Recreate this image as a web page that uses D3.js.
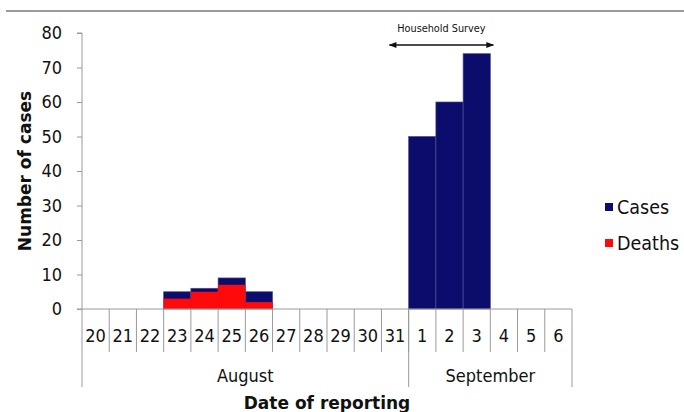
<!DOCTYPE html>
<html><head><meta charset="utf-8">
<script src="https://cdn.jsdelivr.net/npm/d3@7"></script>
<style>
html,body{margin:0;padding:0;background:#fff;}
svg{display:block;font-family:"DejaVu Sans",sans-serif;}
.cond{font-family:"DejaVu Sans Condensed","DejaVu Sans",sans-serif;font-stretch:condensed;}
</style></head>
<body>
<svg id="chart" width="684" height="412"></svg>
<script>
const days = ["20","21","22","23","24","25","26","27","28","29","30","31","1","2","3","4","5","6"];
const cases = [0,0,0,5,6,9,5,0,0,0,0,0,50,60,74,0,0,0];
const deaths = [0,0,0,3,5,7,2,0,0,0,0,0,0,0,0,0,0,0];
const months = ["August","September"];
const monthDays = [12,6];
const yTicks = [0,10,20,30,40,50,60,70,80];
const seriesNames = ["Cases","Deaths"];
const annotation = "Household Survey";
const surveyDays = ["31","3"];

(function(){
const colCases = "#0c0c6c", colDeaths = "#ff0a0a", axisCol = "#9a9a9a";
const svg = d3.select("#chart");
const pL = 82, pR = 572, pT = 33, pB = 309;

const x = d3.scaleBand().domain(days).range([pL, pR]).padding(0);
const y = d3.scaleLinear().domain([0, 80]).range([pB, pT]);

// top rule
svg.append("line").attr("x1",6).attr("x2",684).attr("y1",11).attr("y2",11)
  .attr("stroke","#7a7a7a").attr("stroke-width",1.5);

// bars
const idx = d3.range(days.length);
svg.append("g").selectAll("rect").data(idx.filter(i=>cases[i]>0)).join("rect")
  .attr("x", i=>x(days[i])).attr("width", x.bandwidth())
  .attr("y", i=>y(cases[i])).attr("height", i=>y(0)-y(cases[i]))
  .attr("fill", colCases).attr("stroke","#4c4c88").attr("stroke-width",0.7);
svg.append("g").selectAll("rect").data(idx.filter(i=>deaths[i]>0)).join("rect")
  .attr("x", i=>x(days[i])).attr("width", x.bandwidth())
  .attr("y", i=>y(deaths[i])).attr("height", i=>y(0)-y(deaths[i]))
  .attr("fill", colDeaths);

// y axis
const yAxis = d3.axisLeft(y).tickValues(yTicks).tickSize(5).tickPadding(15);
const gy = svg.append("g").attr("transform",`translate(${pL},0)`).call(yAxis);
gy.select(".domain").attr("stroke",axisCol).attr("d",`M-5,${pT}H0V${pB}`);
gy.selectAll(".tick line").attr("stroke",axisCol);
gy.selectAll(".tick text").attr("class","cond").attr("font-size",18).attr("font-family",null).attr("fill","#111");

// x axis (category lines)
const gx = svg.append("g");
gx.append("line").attr("x1",pL-5).attr("x2",pR).attr("y1",pB).attr("y2",pB).attr("stroke",axisCol);
days.forEach((d,i)=>{
  if(i>0) gx.append("line").attr("x1",x(d)).attr("x2",x(d)).attr("y1",pB).attr("y2",352).attr("stroke",axisCol);
  gx.append("text").attr("class","cond").attr("x",x(d)+x.bandwidth()/2).attr("y",342).attr("text-anchor","middle")
    .attr("font-size",18).attr("fill","#111").text(d);
});
// month separators
let start = 0;
const bounds = [x(days[0])];
monthDays.forEach((n,k)=>{
  const x0 = x(days[start]);
  const x1 = start+n < days.length ? x(days[start+n]) : pR;
  bounds.push(x1);
  gx.append("text").attr("class","cond").attr("x",(x0+x1)/2).attr("y",382).attr("text-anchor","middle")
    .attr("font-size",18).attr("fill","#111").text(months[k]);
  start += n;
});
bounds.forEach(b=>gx.append("line").attr("x1",b).attr("x2",b).attr("y1",pB).attr("y2",387).attr("stroke",axisCol));

// axis titles
svg.append("text").attr("x",327).attr("y",409).attr("text-anchor","middle")
  .attr("font-size",17).attr("font-weight","bold").attr("fill","#111").text("Date of reporting");
svg.append("text").attr("transform","translate(31,171) rotate(-90)").attr("text-anchor","middle")
  .attr("font-size",17).attr("font-weight","bold").attr("fill","#111").text("Number of cases");

// legend
const legY = [207, 243];
seriesNames.forEach((s,k)=>{
  svg.append("rect").attr("x",605).attr("y",legY[k]-4).attr("width",8).attr("height",8)
    .attr("fill", k===0?colCases:colDeaths);
  svg.append("text").attr("class","cond").attr("x",617).attr("y",legY[k]+7).attr("font-size",19.5).attr("fill","#111").text(s);
});

// annotation arrow
svg.append("defs").html(`<marker id="ah" viewBox="0 0 10 10" refX="9" refY="5" markerWidth="8" markerHeight="6" orient="auto-start-reverse"><path d="M0,1L10,5L0,9z" fill="#111"/></marker>`);
const ax0 = x(surveyDays[0]) + 8, ax1 = x(surveyDays[1]) + x.bandwidth() + 3;
svg.append("line").attr("x1",ax0).attr("x2",ax1).attr("y1",45).attr("y2",45)
  .attr("stroke","#111").attr("stroke-width",1.3)
  .attr("marker-start","url(#ah)").attr("marker-end","url(#ah)");
svg.append("text").attr("class","cond").attr("x",(ax0+ax1)/2).attr("y",32).attr("text-anchor","middle")
  .attr("font-size",10.8).attr("fill","#111").text(annotation);
})();
</script>
</body></html>
